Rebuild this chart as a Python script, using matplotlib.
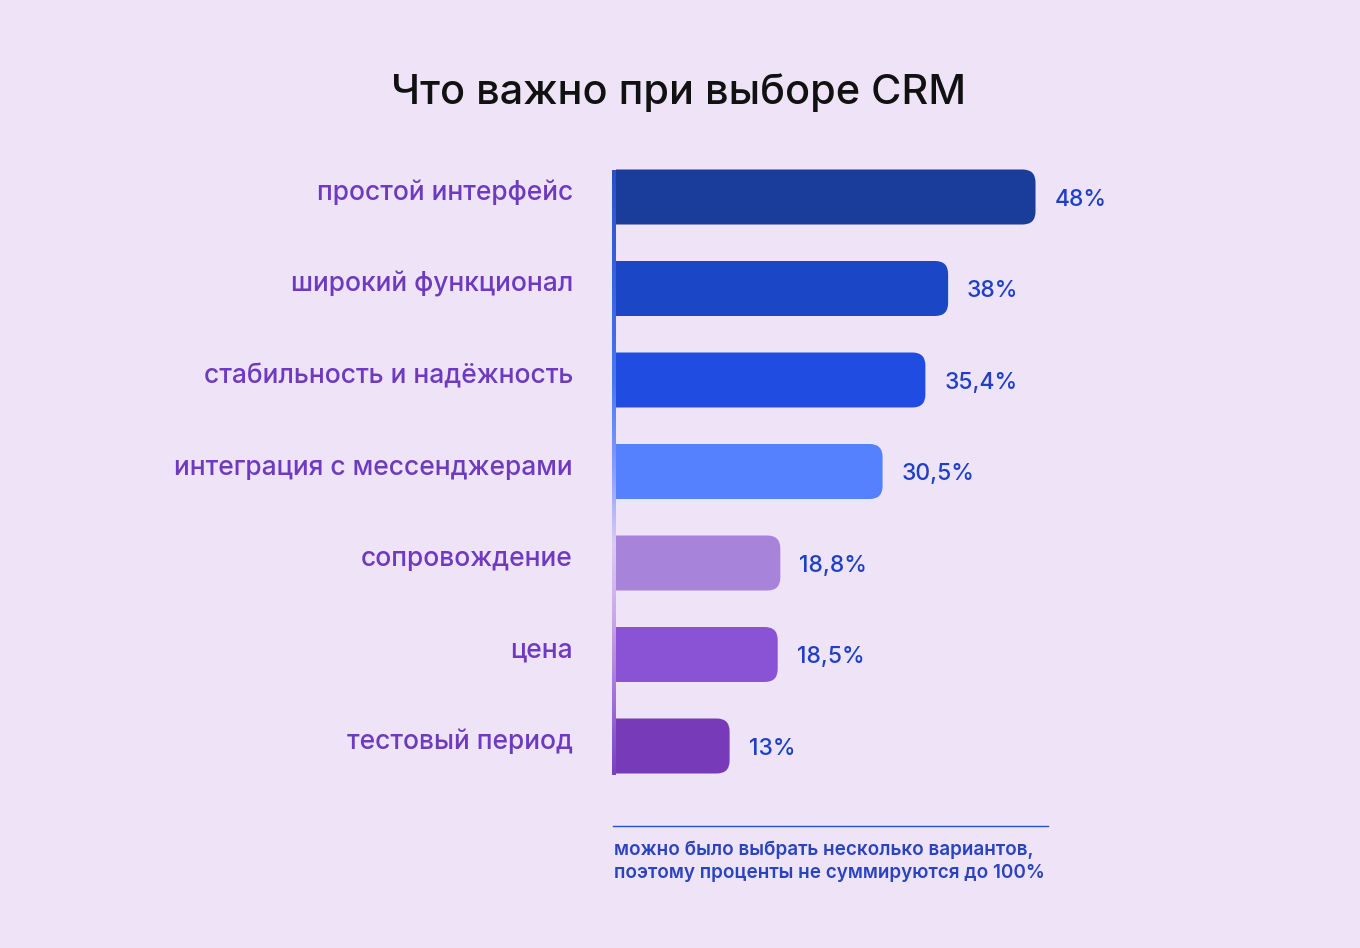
import matplotlib
matplotlib.use("Agg")
import matplotlib.pyplot as plt
import numpy as np
from matplotlib.patches import FancyBboxPatch
from matplotlib.colors import LinearSegmentedColormap

categories = ["простой интерфейс", "широкий функционал", "стабильность и надёжность",
              "интеграция с мессенджерами", "сопровождение", "цена", "тестовый период"]
values = [48, 38, 35.4, 30.5, 18.8, 18.5, 13]
value_labels = ["48%", "38%", "35,4%", "30,5%", "18,8%", "18,5%", "13%"]
bar_colors = ["#1A3C9A", "#1B47C7", "#214CE2", "#5580FE", "#A784DA", "#8A52D5", "#773AB8"]
title = "Что важно при выборе CRM"
footnote = "можно было выбрать несколько вариантов,\nпоэтому проценты не суммируются до 100%"

FONT = ["Inter", "DejaVu Sans"]
BG = "#EFE3F8"
W, H = 1360, 948
fig = plt.figure(figsize=(W / 100, H / 100), dpi=100, facecolor=BG)

px_per_unit = 8.74
row = 91.5
x0 = 616
top = 197 - 0.5 * row
bottom = 746 + 0.5 * row
xmax = 60
ax = fig.add_axes([x0 / W, 1 - bottom / H, xmax * px_per_unit / W, (bottom - top) / H])
ax.set_facecolor("none")
ax.set_xlim(0, xmax)
ax.set_ylim(len(values) - 0.5, -0.5)
ax.axis("off")

bh = 55 / row
r_px = 13
rx = r_px / px_per_unit
aspect = px_per_unit / row
for i, (v, c) in enumerate(zip(values, bar_colors)):
    # start left of the axes so the clipped left side stays square
    p = FancyBboxPatch((-3 * rx, i - bh / 2), v + 3 * rx, bh,
                       boxstyle=f"round,pad=0,rounding_size={rx}",
                       mutation_aspect=aspect, facecolor=c, edgecolor="none")
    ax.add_patch(p)
    p.set_clip_path(ax.patch)
    ax.text(v + 19 / px_per_unit, i + 0.03, value_labels[i], ha="left", va="center",
            fontsize=16.5, color="#1E40C8", family=FONT, fontweight="medium")
    ax.text(-43 / px_per_unit, i - 0.04, categories[i], ha="right", va="center",
            fontsize=19, color="#6E3BC0", family=FONT, fontweight="medium", clip_on=False)

# gradient axis line
cmap = LinearSegmentedColormap.from_list("ax", [(0, "#2A4FCB"), (0.35, "#4C75F0"),
                                                (0.5, "#86A2FF"), (0.62, "#DCCBF6"),
                                                (0.75, "#C7A4E8"), (1.0, "#7A40BE")])
grad = np.linspace(0, 1, 256).reshape(-1, 1)
lax = fig.add_axes([612 / W, 1 - 775 / H, 4 / W, (775 - 170) / H])
lax.imshow(grad, aspect="auto", cmap=cmap)
lax.axis("off")

fig.text(679 / W, 1 - 93 / H, title, ha="center", va="center", fontsize=29.8,
         color="#111111", family=FONT, fontweight="medium")

fig.add_artist(plt.Line2D([613 / W, 1048 / W], [1 - 826 / H, 1 - 826 / H],
                          color="#2B4FD8", lw=1))
fig.text(614 / W, 1 - 861 / H, footnote, ha="left", va="center", fontsize=13.6,
         color="#2A44C0", family=FONT, fontweight="semibold", linespacing=1.35)

fig.savefig("out.png", dpi=100, facecolor=BG)
